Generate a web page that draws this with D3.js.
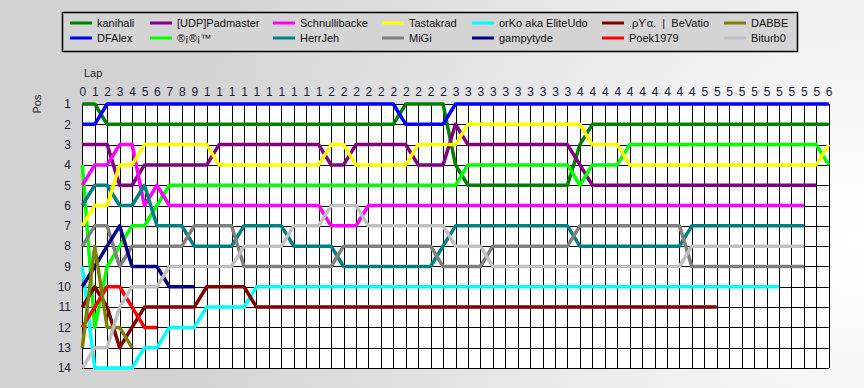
<!DOCTYPE html>
<html>
<head>
<meta charset="utf-8">
<script src="https://cdn.jsdelivr.net/npm/d3@7"></script>
<style>
body { margin: 0; }
svg { display: block; font-family: "Liberation Sans", Arial, sans-serif; }
</style>
</head>
<body>
<svg width="864" height="388"></svg>
<script>
// drivers in legend order (= starting grid)
var drivers = ["kanihali", "DFAlex", "[UDP]Padmaster", "®¡®¡™", "Schnullibacke", "HerrJeh",
    "Tastakrad", "MiGi", "orKo aka EliteUdo", "gampytyde", ".ρϒα.  |  BeVatio", "Poek1979",
    "DABBE", "Biturb0"];
var colors = ["#008000", "#0000ff", "#800080", "#00ff00", "#ff00ff", "#008080",
    "#ffff00", "#808080", "#00ffff", "#000080", "#800000", "#ff0000",
    "#808000", "#c0c0c0"];

// position per lap, starting at lap 0
var kanihali = [1,1,2,2,2,2,2,2,2,2, 2,2,2,2,2,2,2,2,2,2, 2,2,2,2,2,2,1,1,1,1,
    4,5,5,5,5,5,5,5,5,5, 3,2,2,2,2,2,2,2,2,2, 2,2,2,2,2,2,2,2,2,2,2];
var dfalex = [2,2,1,1,1,1,1,1,1,1, 1,1,1,1,1,1,1,1,1,1, 1,1,1,1,1,1,2,2,2,2,
    1,1,1,1,1,1,1,1,1,1, 1,1,1,1,1,1,1,1,1,1, 1,1,1,1,1,1,1,1,1,1,1];
var padmaster = [3,3,3,5,5,4,4,4,4,4, 4,3,3,3,3,3,3,3,3,3, 4,4,3,3,3,3,3,4,4,4,
    2,3,3,3,3,3,3,3,3,3, 4,5,5,5,5,5,5,5,5,5, 5,5,5,5,5,5,5,5,5,5];
var rr = [4,12,9,8,7,7,6,5,5,5, 5,5,5,5,5,5,5,5,5,5, 5,5,5,5,5,5,5,5,5,5,
    5,4,4,4,4,4,4,4,4,4, 5,4,4,4,3,3,3,3,3,3, 3,3,3,3,3,3,3,3,3,3,4];
var schnulli = [5,4,4,3,3,6,5,6,6,6, 6,6,6,6,6,6,6,6,6,6, 7,7,7,6,6,6,6,6,6,6,
    6,6,6,6,6,6,6,6,6,6, 6,6,6,6,6,6,6,6,6,6, 6,6,6,6,6,6,6,6,6];
var herrjeh = [6,5,5,6,6,5,7,7,7,8, 8,8,8,7,7,7,7,8,8,8, 8,9,9,9,9,9,9,9,9,8,
    7,7,7,7,7,7,7,7,7,7, 8,8,8,8,8,8,8,8,8,7, 7,7,7,7,7,7,7,7,7];
var tastakrad = [7,6,6,4,4,3,3,3,3,3, 3,4,4,4,4,4,4,4,4,4, 3,3,4,4,4,4,4,3,3,3,
    3,2,2,2,2,2,2,2,2,2, 2,3,3,3,4,4,4,4,4,4, 4,4,4,4,4,4,4,4,4,4,3];
var migi = [8,7,7,9,8,8,8,8,8,7, 7,7,7,9,9,9,9,9,9,9, 9,8,8,8,8,8,8,8,8,9,
    9,9,9,8,8,8,8,8,8,8, 7,7,7,7,7,7,7,7,7,9, 9,9,9,9,9,9,9,9,9];
var orko = [9,14,14,14,14,13,13,12,12,12, 11,11,11,11,10,10,10,10,10,10,
    10,10,10,10,10,10,10,10,10,10, 10,10,10,10,10,10,10,10,10,10,
    10,10,10,10,10,10,10,10,10,10, 10,10,10,10,10,10,10];
var gampytyde = [10,9,8,7,9,9,9,10,10,10];
var bevatio = [11,10,11,13,12,11,11,11,11,11, 10,10,10,10,11,11,11,11,11,11,
    11,11,11,11,11,11,11,11,11,11, 11,11,11,11,11,11,11,11,11,11,
    11,11,11,11,11,11,11,11,11,11, 11,11];
var poek = [12,11,10,10,11,12,12];
var dabbe = [13,8,12,12,13];
var biturbo = [14,13,13,11,10,10,10,9,9,9, 9,9,9,8,8,8,8,7,7,7, 6,6,6,7,7,7,7,7,7,7,
    8,8,8,9,9,9,9,9,9,9, 9,9,9,9,9,9,9,9,9,8, 8,8,8,8,8,8,8,8,8];

var series = [kanihali, dfalex, padmaster, rr, schnulli, herrjeh, tastakrad, migi,
    orko, gampytyde, bevatio, poek, dabbe, biturbo];

var laps = d3.range(0, 61);
var positions = d3.range(1, 15);

var svg = d3.select("svg");

// background
var defs = svg.append("defs");
var grad = defs.append("radialGradient")
    .attr("id", "bg")
    .attr("gradientUnits", "userSpaceOnUse")
    .attr("cx", 860).attr("cy", 240).attr("r", 700);
grad.append("stop").attr("offset", "0").attr("stop-color", "#ffffff");
grad.append("stop").attr("offset", "1").attr("stop-color", "#d2d2d2");
svg.append("rect")
    .attr("width", 864).attr("height", 388)
    .attr("fill", "url(#bg)");

var x = d3.scaleLinear().domain([0, 60]).range([82.3, 828.7]);
var y = d3.scaleLinear().domain([1, 14]).range([104, 368]);

// plot area
svg.append("rect")
    .attr("x", x(0)).attr("y", y(1))
    .attr("width", x(60) - x(0)).attr("height", y(14) - y(1))
    .attr("fill", "#fff");

var grid = svg.append("g").attr("stroke", "#000").attr("stroke-width", 1);
grid.selectAll(".v")
    .data(laps)
    .enter()
    .append("line")
    .attr("x1", function(d){ return Math.round(x(d)) + 0.5; })
    .attr("x2", function(d){ return Math.round(x(d)) + 0.5; })
    .attr("y1", y(1))
    .attr("y2", y(14));
grid.selectAll(".h")
    .data(positions)
    .enter()
    .append("line")
    .attr("x1", x(0))
    .attr("x2", x(60))
    .attr("y1", function(d){ return Math.round(y(d)) + 0.5; })
    .attr("y2", function(d){ return Math.round(y(d)) + 0.5; });

// axes
var xAxis = d3.axisTop(x)
    .tickValues(laps)
    .tickSize(0)
    .tickPadding(0)
    .tickFormat(function(d){ return String(d).charAt(0); });
var gx = svg.append("g")
    .attr("transform", "translate(0,96)")
    .call(xAxis);
gx.select(".domain").remove();
gx.selectAll("text")
    .attr("font-size", 12)
    .attr("font-family", "Liberation Sans, Arial, sans-serif")
    .attr("fill", "#1a1a3a");

var yAxis = d3.axisLeft(y)
    .tickValues(positions)
    .tickSize(0)
    .tickPadding(0);
var gy = svg.append("g")
    .attr("transform", "translate(71,0)")
    .call(yAxis);
gy.select(".domain").remove();
gy.selectAll("text")
    .attr("font-size", 12)
    .attr("font-family", "Liberation Sans, Arial, sans-serif")
    .attr("fill", "#1a1a3a");

svg.append("text")
    .attr("x", 84).attr("y", 77)
    .attr("font-size", 11)
    .attr("fill", "#222")
    .text("Lap");
svg.append("text")
    .attr("transform", "translate(41,104) rotate(-90)")
    .attr("text-anchor", "middle")
    .attr("font-size", 11)
    .attr("fill", "#222")
    .text("Pos");

// position lines
var line = d3.line()
    .x(function(d, i){ return x(i); })
    .y(function(d){ return y(d); });

svg.append("g")
    .selectAll("path")
    .data(series)
    .enter()
    .append("path")
    .attr("d", line)
    .attr("fill", "none")
    .attr("stroke", function(d, i){ return colors[i]; })
    .attr("stroke-width", 3.5)
    .attr("stroke-linejoin", "round");

// legend
var legend = svg.append("g");
legend.append("rect")
    .attr("x", 62.5).attr("y", 12.5)
    .attr("width", 735).attr("height", 39)
    .attr("fill", "#d4d4d4")
    .attr("stroke", "#000")
    .attr("stroke-width", 1.5);

var colX = [70, 150, 273, 382, 472, 602, 724];
var rowY = [23, 38];

var item = legend.selectAll(".item")
    .data(drivers)
    .enter()
    .append("g")
    .attr("transform", function(d, i){
        return "translate(" + colX[Math.floor(i / 2)] + "," + rowY[i % 2] + ")";
    });
item.append("line")
    .attr("x1", 0).attr("x2", 22)
    .attr("stroke", function(d, i){ return colors[i]; })
    .attr("stroke-width", 3);
item.append("text")
    .attr("x", 27).attr("y", 4)
    .attr("font-size", 11)
    .attr("fill", "#111")
    .style("white-space", "pre")
    .text(function(d){ return d; });
</script>
</body>
</html>
